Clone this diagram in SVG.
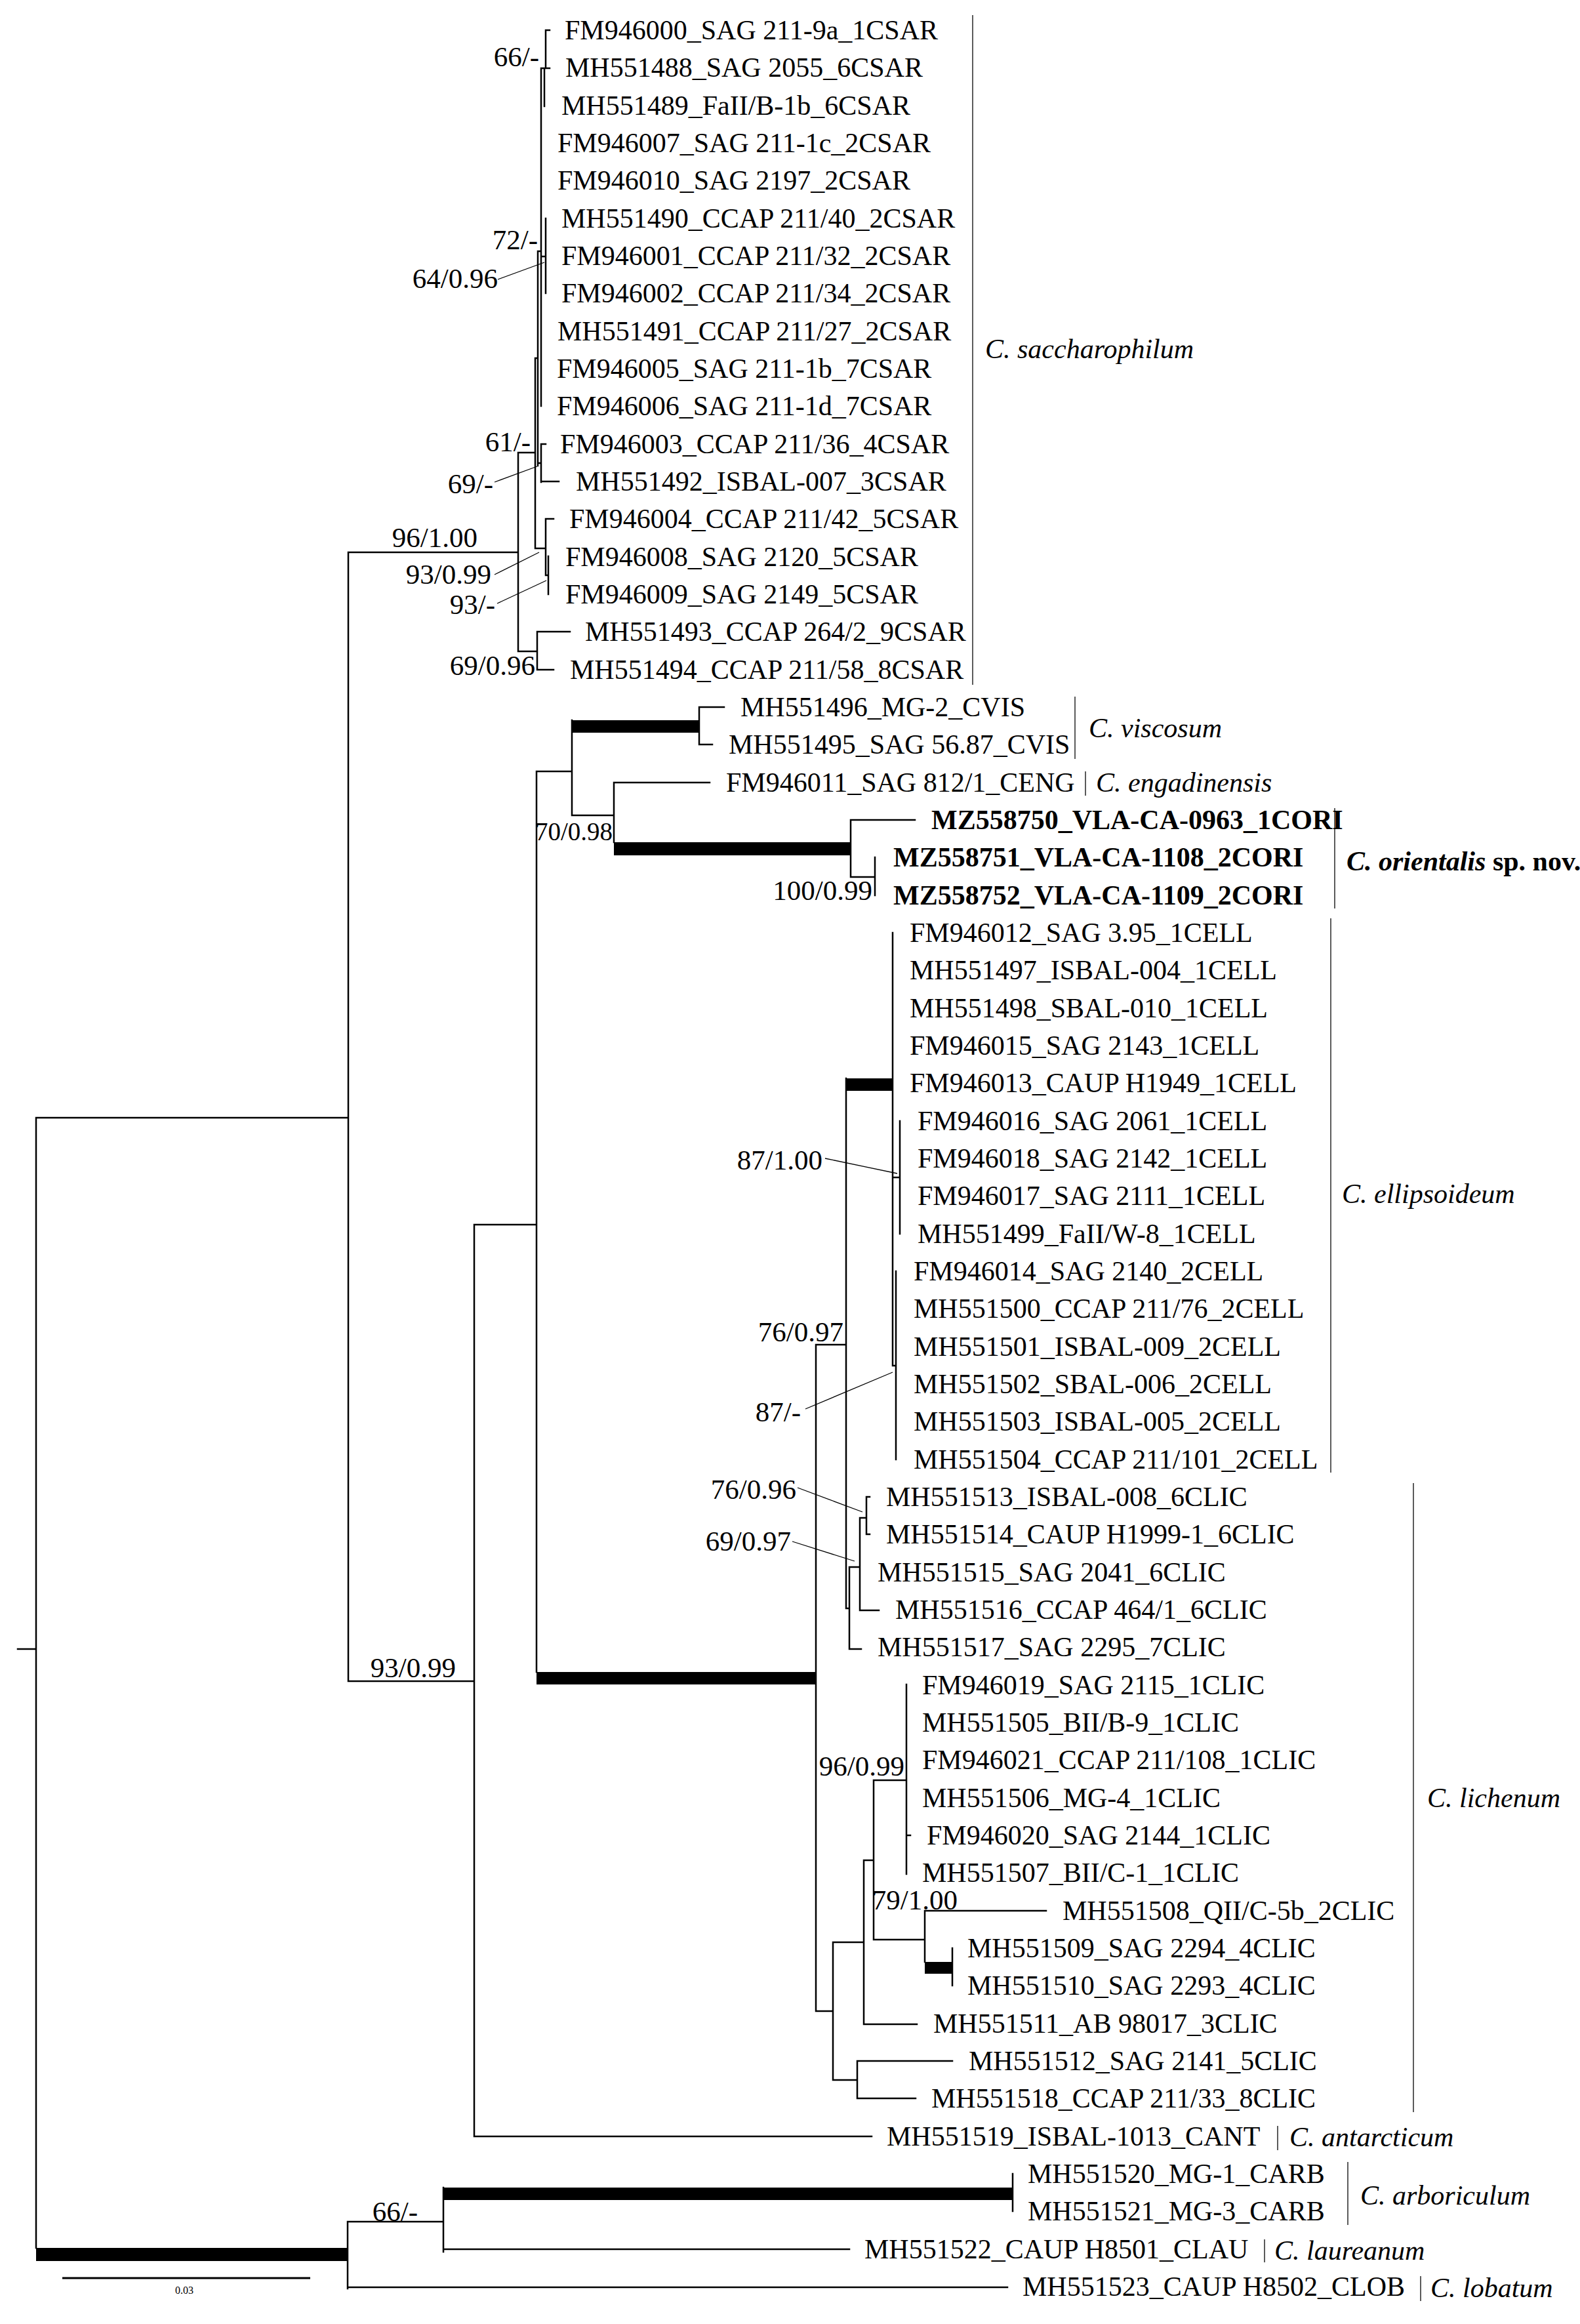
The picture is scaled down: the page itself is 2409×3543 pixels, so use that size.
<svg xmlns="http://www.w3.org/2000/svg" width="2409" height="3543" viewBox="0 0 2409 3543">
<style>
text{font-family:"Liberation Serif","Times New Roman",serif;fill:#000}
.lf{font-size:42px}
.lb{font-size:42px;font-weight:bold}
.sp{font-size:43px;text-anchor:end}
.cl{font-size:42px;font-style:italic}
.br{stroke:#000;stroke-width:2.5;fill:none;stroke-linecap:square}
.ld{stroke:#000;stroke-width:1.3;fill:none}
.bar{stroke:#333;stroke-width:1.6;fill:none}
.tk{fill:#000}
</style>
<rect width="2409" height="3543" fill="#fff"/>
<g id="connectors">
<path class="br" d="M27,2514H55 M55,1704V3427 M55,1704H531 M531,842V2563 M531,842H790 M531,2563H723 M723,1867V3257 M723,1867H818 M723,3257H1329 M818,1176V2549 M818,1176H872 M872,1098V1243 M1066,1078V1135 M1066,1078H1104 M1066,1135H1086 M872,1243H936 M936,1193V1284 M936,1193H1082 M1297,1250V1337 M1297,1250H1395 M1297,1337H1334 M1334,1307V1365 M1244,2050V3066 M1244,2050H1290 M1290,1644V2452 M1361,1422V2082 M1361,1795H1372 M1372,1709V1881 M1361,2082H1366 M1366,1938V2225 M1290,2452H1295 M1295,2389V2514 M1295,2389H1311 M1295,2514H1313 M1311,2314V2455 M1311,2314H1321 M1321,2282V2339 M1321,2282H1326 M1321,2339H1326 M1311,2455H1340 M1244,3066H1270 M1270,2961V3171 M1270,2961H1317 M1317,2836V3086 M1317,2836H1332 M1332,2714V2957 M1332,2714H1382 M1382,2568V2857 M1382,2798H1388 M1332,2957H1410 M1410,2913V2991 M1410,2913H1595 M1452,2970V3027 M1317,3086H1398 M1270,3171H1307 M1307,3142V3199 M1307,3142H1452 M1307,3199H1396 M530,3387V3489 M530,3387H676 M676,3335V3433 M1544,3314V3371 M676,3429H1295 M530,3487H1536 M790,690V993 M790,690H816 M816,546V836 M816,546H820 M820,383V710 M820,383H825 M825,104V619 M825,104H838 M832,46V104 M832,46H838 M830,104V162 M825,391H832 M832,333V447 M820,706H825 M825,677V735 M825,677H832 M825,734H852 M816,836H832 M832,791V877 M832,791H844 M832,877H836 M836,848V906 M790,993H819 M819,963V1021 M819,963H869 M819,1021H844"/>
<rect class="tk" x="55" y="3427" width="475" height="20"/>
<rect class="tk" x="818" y="2549" width="426" height="19"/>
<rect class="tk" x="872" y="1098" width="194" height="19"/>
<rect class="tk" x="936" y="1284" width="361" height="20"/>
<rect class="tk" x="1290" y="1644" width="71" height="19"/>
<rect class="tk" x="1410" y="2991" width="42" height="18"/>
<rect class="tk" x="676" y="3335" width="868" height="19"/>
<path class="ld" d="M759,426L830,400 M754,735L819,711 M754,876L822,842 M758,920L833,885 M1258,1766L1368,1789 M1228,2148L1361,2092 M1216,2268L1315,2305 M1208,2350L1303,2380"/>
<path class="bar" d="M1483,23V1044 M1639,1062V1157 M1655,1176V1213 M2035,1232V1385 M2029,1400V2245 M2155,2261V3220 M1948,3241V3278 M2055,3296V3392 M1928,3414V3449 M2166,3470V3508"/>
<path stroke="#000" stroke-width="3" d="M95,3473H473"/>
</g>
<g id="support-values">
<text class="sp" x="822" y="101">66/-</text>
<text class="sp" x="820" y="380">72/-</text>
<text class="sp" x="759" y="439">64/0.96</text>
<text class="sp" x="809" y="688">61/-</text>
<text class="sp" x="752" y="752">69/-</text>
<text class="sp" x="749" y="890">93/0.99</text>
<text class="sp" x="755" y="936">93/-</text>
<text class="sp" x="816" y="1029">69/0.96</text>
<text class="sp" x="728" y="834">96/1.00</text>
<text class="sp" x="934" y="1281" style="font-size:39px">70/0.98</text>
<text class="sp" x="1330" y="1372">100/0.99</text>
<text class="sp" x="1254" y="1783">87/1.00</text>
<text class="sp" x="1286" y="2045">76/0.97</text>
<text class="sp" x="1221" y="2167">87/-</text>
<text class="sp" x="1214" y="2285">76/0.96</text>
<text class="sp" x="1206" y="2364">69/0.97</text>
<text class="sp" x="695" y="2557">93/0.99</text>
<text class="sp" x="1379" y="2707">96/0.99</text>
<text class="sp" x="1460" y="2911">79/1.00</text>
<text class="sp" x="637" y="3386">66/-</text>
<text x="281" y="3497" style="font-size:16px;text-anchor:middle">0.03</text>
</g>
<g id="leaves">
<g id="leaf1"><text class="lf" x="861" y="60">FM946000_SAG 211-9a_1CSAR</text></g>
<g id="leaf2"><text class="lf" x="862" y="117">MH551488_SAG 2055_6CSAR</text></g>
<g id="leaf3"><text class="lf" x="856" y="175">MH551489_FaII/B-1b_6CSAR</text></g>
<g id="leaf4"><text class="lf" x="850" y="232">FM946007_SAG 211-1c_2CSAR</text></g>
<g id="leaf5"><text class="lf" x="850" y="289">FM946010_SAG 2197_2CSAR</text></g>
<g id="leaf6"><text class="lf" x="856" y="347">MH551490_CCAP 211/40_2CSAR</text></g>
<g id="leaf7"><text class="lf" x="856" y="404">FM946001_CCAP 211/32_2CSAR</text></g>
<g id="leaf8"><text class="lf" x="856" y="461">FM946002_CCAP 211/34_2CSAR</text></g>
<g id="leaf9"><text class="lf" x="850" y="519">MH551491_CCAP 211/27_2CSAR</text></g>
<g id="leaf10"><text class="lf" x="849" y="576">FM946005_SAG 211-1b_7CSAR</text></g>
<g id="leaf11"><text class="lf" x="849" y="633">FM946006_SAG 211-1d_7CSAR</text></g>
<g id="leaf12"><text class="lf" x="854" y="691">FM946003_CCAP 211/36_4CSAR</text></g>
<g id="leaf13"><text class="lf" x="878" y="748">MH551492_ISBAL-007_3CSAR</text></g>
<g id="leaf14"><text class="lf" x="868" y="805">FM946004_CCAP 211/42_5CSAR</text></g>
<g id="leaf15"><text class="lf" x="862" y="863">FM946008_SAG 2120_5CSAR</text></g>
<g id="leaf16"><text class="lf" x="862" y="920">FM946009_SAG 2149_5CSAR</text></g>
<g id="leaf17"><text class="lf" x="892" y="977">MH551493_CCAP 264/2_9CSAR</text></g>
<g id="leaf18"><text class="lf" x="869" y="1035">MH551494_CCAP 211/58_8CSAR</text></g>
<g id="leaf19"><text class="lf" x="1129" y="1092">MH551496_MG-2_CVIS</text></g>
<g id="leaf20"><text class="lf" x="1111" y="1149">MH551495_SAG 56.87_CVIS</text></g>
<g id="leaf21"><text class="lf" x="1107" y="1207">FM946011_SAG 812/1_CENG</text></g>
<g id="leaf22"><text class="lb" x="1420" y="1264">MZ558750_VLA-CA-0963_1CORI</text></g>
<g id="leaf23"><text class="lb" x="1362" y="1321">MZ558751_VLA-CA-1108_2CORI</text></g>
<g id="leaf24"><text class="lb" x="1362" y="1379">MZ558752_VLA-CA-1109_2CORI</text></g>
<g id="leaf25"><text class="lf" x="1387" y="1436">FM946012_SAG 3.95_1CELL</text></g>
<g id="leaf26"><text class="lf" x="1387" y="1493">MH551497_ISBAL-004_1CELL</text></g>
<g id="leaf27"><text class="lf" x="1387" y="1551">MH551498_SBAL-010_1CELL</text></g>
<g id="leaf28"><text class="lf" x="1387" y="1608">FM946015_SAG 2143_1CELL</text></g>
<g id="leaf29"><text class="lf" x="1387" y="1665">FM946013_CAUP H1949_1CELL</text></g>
<g id="leaf30"><text class="lf" x="1399" y="1723">FM946016_SAG 2061_1CELL</text></g>
<g id="leaf31"><text class="lf" x="1399" y="1780">FM946018_SAG 2142_1CELL</text></g>
<g id="leaf32"><text class="lf" x="1399" y="1837">FM946017_SAG 2111_1CELL</text></g>
<g id="leaf33"><text class="lf" x="1399" y="1895">MH551499_FaII/W-8_1CELL</text></g>
<g id="leaf34"><text class="lf" x="1393" y="1952">FM946014_SAG 2140_2CELL</text></g>
<g id="leaf35"><text class="lf" x="1393" y="2009">MH551500_CCAP 211/76_2CELL</text></g>
<g id="leaf36"><text class="lf" x="1393" y="2067">MH551501_ISBAL-009_2CELL</text></g>
<g id="leaf37"><text class="lf" x="1393" y="2124">MH551502_SBAL-006_2CELL</text></g>
<g id="leaf38"><text class="lf" x="1393" y="2181">MH551503_ISBAL-005_2CELL</text></g>
<g id="leaf39"><text class="lf" x="1393" y="2239">MH551504_CCAP 211/101_2CELL</text></g>
<g id="leaf40"><text class="lf" x="1351" y="2296">MH551513_ISBAL-008_6CLIC</text></g>
<g id="leaf41"><text class="lf" x="1351" y="2353">MH551514_CAUP H1999-1_6CLIC</text></g>
<g id="leaf42"><text class="lf" x="1338" y="2411">MH551515_SAG 2041_6CLIC</text></g>
<g id="leaf43"><text class="lf" x="1365" y="2468">MH551516_CCAP 464/1_6CLIC</text></g>
<g id="leaf44"><text class="lf" x="1338" y="2525">MH551517_SAG 2295_7CLIC</text></g>
<g id="leaf45"><text class="lf" x="1406" y="2583">FM946019_SAG 2115_1CLIC</text></g>
<g id="leaf46"><text class="lf" x="1406" y="2640">MH551505_BII/B-9_1CLIC</text></g>
<g id="leaf47"><text class="lf" x="1406" y="2697">FM946021_CCAP 211/108_1CLIC</text></g>
<g id="leaf48"><text class="lf" x="1406" y="2755">MH551506_MG-4_1CLIC</text></g>
<g id="leaf49"><text class="lf" x="1413" y="2812">FM946020_SAG 2144_1CLIC</text></g>
<g id="leaf50"><text class="lf" x="1406" y="2869">MH551507_BII/C-1_1CLIC</text></g>
<g id="leaf51"><text class="lf" x="1620" y="2927">MH551508_QII/C-5b_2CLIC</text></g>
<g id="leaf52"><text class="lf" x="1475" y="2984">MH551509_SAG 2294_4CLIC</text></g>
<g id="leaf53"><text class="lf" x="1475" y="3041">MH551510_SAG 2293_4CLIC</text></g>
<g id="leaf54"><text class="lf" x="1423" y="3099">MH551511_AB 98017_3CLIC</text></g>
<g id="leaf55"><text class="lf" x="1477" y="3156">MH551512_SAG 2141_5CLIC</text></g>
<g id="leaf56"><text class="lf" x="1420" y="3213">MH551518_CCAP 211/33_8CLIC</text></g>
<g id="leaf57"><text class="lf" x="1352" y="3271">MH551519_ISBAL-1013_CANT</text></g>
<g id="leaf58"><text class="lf" x="1567" y="3328">MH551520_MG-1_CARB</text></g>
<g id="leaf59"><text class="lf" x="1567" y="3385">MH551521_MG-3_CARB</text></g>
<g id="leaf60"><text class="lf" x="1318" y="3443">MH551522_CAUP H8501_CLAU</text></g>
<g id="leaf61"><text class="lf" x="1559" y="3500">MH551523_CAUP H8502_CLOB</text></g>
</g>
<g id="clades">
<g id="clade-saccharophilum"><text class="cl" x="1502" y="546">C. saccharophilum</text></g>
<g id="clade-viscosum"><text class="cl" x="1660" y="1124">C. viscosum</text></g>
<g id="clade-engadinensis"><text class="cl" x="1671" y="1207">C. engadinensis</text></g>
<g id="clade-orientalis"><text x="2053" y="1327" style="font-size:42px;font-weight:bold"><tspan font-style="italic">C. orientalis</tspan> sp. nov.</text></g>
<g id="clade-ellipsoideum"><text class="cl" x="2046" y="1834">C. ellipsoideum</text></g>
<g id="clade-lichenum"><text class="cl" x="2176" y="2755">C. lichenum</text></g>
<g id="clade-antarcticum"><text class="cl" x="1966" y="3272">C. antarcticum</text></g>
<g id="clade-arboriculum"><text class="cl" x="2074" y="3361">C. arboriculum</text></g>
<g id="clade-laureanum"><text class="cl" x="1943" y="3445">C. laureanum</text></g>
<g id="clade-lobatum"><text class="cl" x="2181" y="3502">C. lobatum</text></g>
</g>
</svg>
